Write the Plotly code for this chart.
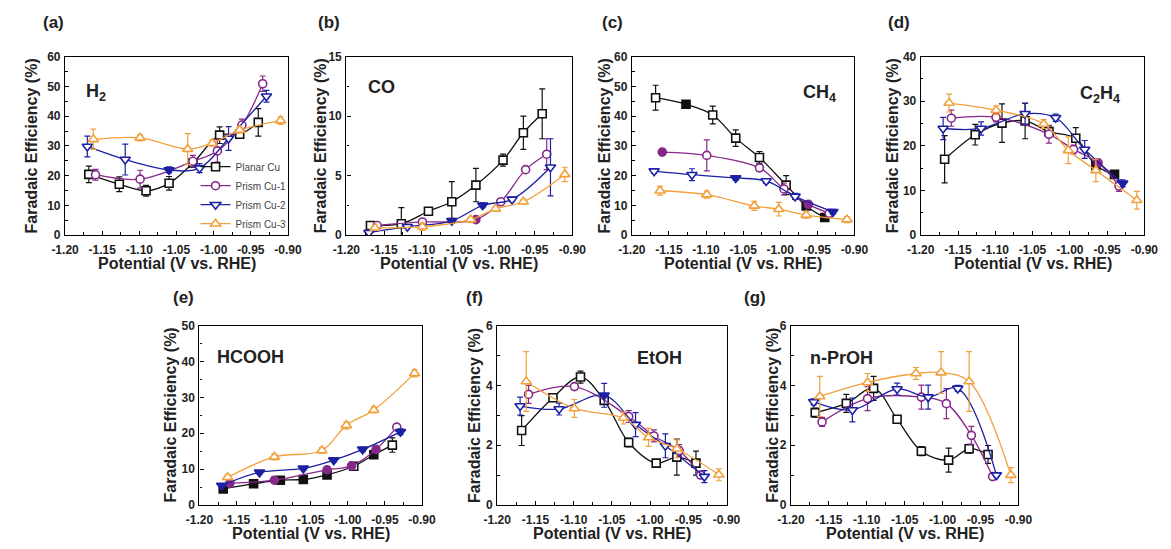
import plotly.graph_objects as go

W, H = 1171, 549

# ---- series ----------------------------------------------------------------
SERIES = ["Planar Cu", "Prism Cu-1", "Prism Cu-2", "Prism Cu-3"]
COLORS = ["#111111", "#86288A", "#1C20A2", "#F2A03C"]
SYMBOLS = ["square", "circle", "triangle-down", "triangle-up"]
MARKER_SIZES = [8, 8, 9, 9]

# applied potentials (V vs. RHE) for each electrode
POTENTIAL_PLANAR = [-1.168, -1.127, -1.091, -1.060, -1.028, -0.992, -0.965, -0.940]
POTENTIAL_CU1 = [-1.159, -1.099, -1.028, -0.995, -0.962, -0.934]
POTENTIAL_CU2 = [-1.170, -1.119, -1.060, -1.019, -0.980, -0.929]
POTENTIAL_CU3 = [-1.162, -1.099, -1.035, -1.002, -0.965, -0.910]
POTENTIALS = [POTENTIAL_PLANAR, POTENTIAL_CU1, POTENTIAL_CU2, POTENTIAL_CU3]

# ---- Faradaic efficiencies (%) and their error bars ------------------------
FE_H2_PLANAR = [20.4, 17.1, 14.9, 17.4, 24.2, 33.6, 33.9, 37.9]
FE_H2_CU1 = [20.3, 18.8, 24.8, 28.3, 37.0, 50.9]
FE_H2_CU2 = [29.8, 25.4, 21.9, 22.5, 32.5, 46.7]
FE_H2_CU3 = [32.2, 32.7, 28.9, 30.9, 35.3, 38.5]
ERR_H2_PLANAR = [2.8, 2.5, 1.8, 2.3, 1.0, 2.8, 1.4, 4.6]
ERR_H2_CU1 = [1.8, 3.0, 2.0, 3.8, 2.0, 2.6]
ERR_H2_CU2 = [3.5, 5.2, 1.0, 1.5, 4.0, 2.0]
ERR_H2_CU3 = [3.4, 1.0, 5.2, 1.0, 1.0, 1.3]

FE_CO_PLANAR = [0.8, 0.95, 2.0, 2.8, 4.2, 6.3, 8.6, 10.2]
FE_CO_CU1 = [0.8, 1.1, 1.3, 2.8, 5.5, 6.8]
FE_CO_CU2 = [0.2, 0.7, 1.2, 2.5, 3.0, 5.7]
FE_CO_CU3 = [0.6, 0.7, 1.3, 2.2, 2.8, 5.1]
ERR_CO_PLANAR = [0.15, 1.35, 0.15, 1.7, 1.4, 0.5, 1.4, 2.1]
ERR_CO_CU1 = [0.1, 0.15, 0.15, 0.2, 0.2, 1.3]
ERR_CO_CU2 = [0.1, 0.1, 0.2, 0.2, 0.2, 2.4]
ERR_CO_CU3 = [0.1, 0.3, 0.2, 0.2, 0.2, 0.6]

FE_CH4_PLANAR = [46.2, 44.0, 40.4, 32.6, 26.1, 16.8, 9.8, 5.9]
FE_CH4_CU1 = [27.9, 26.8, 22.6, 15.5, 10.3, 7.3]
FE_CH4_CU2 = [21.5, 20.3, 19.2, 18.2, 13.0, 7.8]
FE_CH4_CU3 = [14.9, 13.6, 9.8, 8.7, 6.7, 5.2]
ERR_CH4_PLANAR = [4.2, 0.5, 3.0, 2.8, 2.0, 3.2, 0.8, 0.5]
ERR_CH4_CU1 = [0.5, 5.2, 1.0, 2.0, 0.8, 0.5]
ERR_CH4_CU2 = [0.8, 2.0, 0.8, 0.8, 1.0, 0.8]
ERR_CH4_CU3 = [1.5, 1.2, 1.5, 2.3, 1.0, 1.0]

FE_C2H4_PLANAR = [17.0, 22.5, 25.1, 25.6, 23.2, 21.7, 15.6, 13.6]
FE_C2H4_CU1 = [26.2, 26.4, 22.6, 19.2, 16.2, 11.0]
FE_C2H4_CU2 = [23.9, 23.9, 27.2, 26.3, 19.2, 11.6]
FE_C2H4_CU3 = [29.6, 28.0, 24.9, 19.0, 14.5, 7.8]
ERR_C2H4_PLANAR = [5.3, 2.3, 4.3, 4.0, 1.0, 2.4, 1.0, 0.8]
ERR_C2H4_CU1 = [1.8, 1.0, 2.0, 1.0, 0.8, 1.2]
ERR_C2H4_CU2 = [2.5, 1.5, 2.3, 0.8, 2.0, 0.8]
ERR_C2H4_CU3 = [2.0, 1.0, 1.0, 3.0, 2.5, 2.0]

FE_HCOOH_PLANAR = [4.5, 5.9, 6.9, 7.1, 8.4, 10.8, 14.0, 16.7]
FE_HCOOH_CU1 = [6.1, 6.9, 9.8, 10.9, 15.5, 21.7]
FE_HCOOH_CU2 = [5.4, 9.1, 10.2, 12.5, 15.5, 20.4]
FE_HCOOH_CU3 = [7.7, 13.4, 15.2, 22.2, 26.5, 36.7]
ERR_HCOOH_PLANAR = [0.5, 0.4, 0.4, 0.4, 0.5, 0.5, 0.6, 2.0]
ERR_HCOOH_CU1 = [0.4, 0.4, 0.5, 0.5, 0.5, 0.8]
ERR_HCOOH_CU2 = [0.4, 0.5, 0.5, 0.5, 0.6, 0.8]
ERR_HCOOH_CU3 = [0.6, 0.8, 0.8, 1.0, 0.8, 1.0]

FE_ETOH_PLANAR = [2.49, 3.59, 4.28, 3.5, 2.09, 1.40, 1.60, 1.40]
FE_ETOH_CU1 = [3.70, 3.96, 2.96, 2.31, 1.82, 1.00]
FE_ETOH_CU2 = [3.31, 3.21, 3.67, 2.69, 1.98, 0.95]
FE_ETOH_CU3 = [4.13, 3.23, 2.91, 2.26, 1.88, 1.01]
ERR_ETOH_PLANAR = [0.5, 0.1, 0.2, 0.1, 0.15, 0.1, 0.6, 0.4]
ERR_ETOH_CU1 = [0.3, 0.1, 0.2, 0.2, 0.2, 0.1]
ERR_ETOH_CU2 = [0.3, 0.2, 0.4, 0.4, 0.4, 0.2]
ERR_ETOH_CU3 = [1.0, 0.3, 0.2, 0.3, 0.3, 0.2]

FE_PROH_PLANAR = [3.09, 3.40, 3.90, 2.87, 1.80, 1.50, 1.88, 1.69]
FE_PROH_CU1 = [2.78, 3.56, 3.61, 3.39, 2.33, 0.95]
FE_PROH_CU2 = [3.45, 3.18, 3.88, 3.61, 3.90, 1.00]
FE_PROH_CU3 = [3.63, 4.10, 4.40, 4.43, 4.13, 1.00]
ERR_PROH_PLANAR = [0.15, 0.3, 0.4, 0.05, 0.15, 0.4, 0.15, 0.3]
ERR_PROH_CU1 = [0.15, 0.4, 0.4, 0.5, 0.3, 0.05]
ERR_PROH_CU2 = [0.1, 0.4, 0.2, 0.4, 0.1, 0.05]
ERR_PROH_CU3 = [0.67, 0.3, 0.2, 0.7, 1.0, 0.25]

X_TICKS = [-1.20, -1.15, -1.10, -1.05, -1.00, -0.95, -0.90]
X_TICK_LABELS = ["-1.20", "-1.15", "-1.10", "-1.05", "-1.00", "-0.95", "-0.90"]

FONT = "Liberation Sans, Arial, sans-serif"
TEXT = "#222222"

# panel layout: plot box in pixels (left, right, top, bottom)
PANELS = [
    dict(tag="(a)", name="H<sub>2</sub>", ymax=60, dtick=10,
         fe=[FE_H2_PLANAR, FE_H2_CU1, FE_H2_CU2, FE_H2_CU3],
         err=[ERR_H2_PLANAR, ERR_H2_CU1, ERR_H2_CU2, ERR_H2_CU3],
         filled={2: [2]},
         box=(52.3, 280.7, 51, 234), tag_at=(40, 16), name_at=(84, 88), ytitle_x=18),
    dict(tag="(b)", name="CO", ymax=15, dtick=5,
         fe=[FE_CO_PLANAR, FE_CO_CU1, FE_CO_CU2, FE_CO_CU3],
         err=[ERR_CO_PLANAR, ERR_CO_CU1, ERR_CO_CU2, ERR_CO_CU3],
         filled={1: [2], 2: [2, 3]},
         box=(340.5, 572, 51, 234), tag_at=(323, 16), name_at=(377, 82), ytitle_x=314),
    dict(tag="(c)", name="CH<sub>4</sub>", ymax=60, dtick=10,
         fe=[FE_CH4_PLANAR, FE_CH4_CU1, FE_CH4_CU2, FE_CH4_CU3],
         err=[ERR_CH4_PLANAR, ERR_CH4_CU1, ERR_CH4_CU2, ERR_CH4_CU3],
         filled={0: [1, 6, 7], 1: [0, 4], 2: [2, 5]},
         box=(633, 861, 51, 234), tag_at=(613, 16), name_at=(825, 89), ytitle_x=605),
    dict(tag="(d)", name="C<sub>2</sub>H<sub>4</sub>", ymax=40, dtick=10,
         fe=[FE_C2H4_PLANAR, FE_C2H4_CU1, FE_C2H4_CU2, FE_C2H4_CU3],
         err=[ERR_C2H4_PLANAR, ERR_C2H4_CU1, ERR_C2H4_CU2, ERR_C2H4_CU3],
         filled={0: [6, 7], 1: [4], 2: [5]},
         box=(929, 1158, 51, 234), tag_at=(907, 16), name_at=(1113, 90), ytitle_x=900),
    dict(tag="(e)", name="HCOOH", ymax=50, dtick=10,
         fe=[FE_HCOOH_PLANAR, FE_HCOOH_CU1, FE_HCOOH_CU2, FE_HCOOH_CU3],
         err=[ERR_HCOOH_PLANAR, ERR_HCOOH_CU1, ERR_HCOOH_CU2, ERR_HCOOH_CU3],
         filled={0: [0, 1, 2, 3, 4, 6], 1: [0, 1, 2, 3, 4], 2: [0, 1, 2, 3, 4, 5]},
         box=(190, 418, 327, 511), tag_at=(174, 298), name_at=(242, 359), ytitle_x=160),
    dict(tag="(f)", name="EtOH", ymax=6, dtick=2,
         fe=[FE_ETOH_PLANAR, FE_ETOH_CU1, FE_ETOH_CU2, FE_ETOH_CU3],
         err=[ERR_ETOH_PLANAR, ERR_ETOH_CU1, ERR_ETOH_CU2, ERR_ETOH_CU3],
         filled={2: [2]},
         box=(495, 730, 327, 511), tag_at=(472, 298), name_at=(661, 360), ytitle_x=472),
    dict(tag="(g)", name="n-PrOH", ymax=6, dtick=2,
         fe=[FE_PROH_PLANAR, FE_PROH_CU1, FE_PROH_CU2, FE_PROH_CU3],
         err=[ERR_PROH_PLANAR, ERR_PROH_CU1, ERR_PROH_CU2, ERR_PROH_CU3],
         filled={},
         box=(796, 1029, 327, 511), tag_at=(759, 298), name_at=(848, 360), ytitle_x=777),
]


def px(x):
    return x / W


def py(y):
    return 1 - y / H


fig = go.Figure()
annotations = []
layout_axes = {}

for p_idx, panel in enumerate(PANELS):
    n = p_idx + 1
    xa = "x" if n == 1 else f"x{n}"
    ya = "y" if n == 1 else f"y{n}"
    left, right, top, bottom = panel["box"]

    for s_idx, name in enumerate(SERIES):
        color = COLORS[s_idx]
        xs = POTENTIALS[s_idx]
        ys = panel["fe"][s_idx]
        filled = panel["filled"].get(s_idx, [])
        fills = [color if i in filled else "white" for i in range(len(xs))]
        fig.add_trace(go.Scatter(
            x=xs, y=ys, xaxis=xa, yaxis=ya, name=name,
            mode="lines+markers", showlegend=(p_idx == 0), legendgroup=name,
            line=dict(color=color, width=1.3, shape="spline", smoothing=1.0),
            marker=dict(symbol=SYMBOLS[s_idx], size=MARKER_SIZES[s_idx], color=fills,
                        line=dict(color=color, width=1.6)),
            error_y=dict(type="data", array=panel["err"][s_idx], color=color,
                         thickness=1.2, width=3),
        ))

    axis_common = dict(
        showline=True, linecolor="black", linewidth=1.3, mirror=True,
        ticks="inside", ticklen=4, tickwidth=1.2, tickcolor="black",
        showgrid=False, zeroline=False,
        tickfont=dict(family=FONT, size=12, color=TEXT, weight="bold"),
    )
    layout_axes[("xaxis" if n == 1 else f"xaxis{n}")] = dict(
        axis_common, domain=[px(left), px(right)], anchor=ya,
        range=[-1.20, -0.90], tickmode="array", tickvals=X_TICKS, ticktext=X_TICK_LABELS,
        ticklabelstandoff=3,
        minor=dict(tickmode="linear", tick0=-1.2, dtick=0.025, ticks="inside",
                   ticklen=2.5, tickwidth=1, tickcolor="black"),
    )
    layout_axes[("yaxis" if n == 1 else f"yaxis{n}")] = dict(
        axis_common, domain=[py(bottom), py(top)], anchor=xa,
        range=[0, panel["ymax"]], tickmode="linear", tick0=0, dtick=panel["dtick"],
        ticklabelstandoff=1,
        minor=dict(tickmode="linear", tick0=0, dtick=panel["dtick"] / 2, ticks="inside",
                   ticklen=2.5, tickwidth=1, tickcolor="black"),
    )

    # panel tag, product name and axis titles
    annotations.append(dict(
        text=panel["tag"], x=px(panel["tag_at"][0]), y=py(panel["tag_at"][1]),
        xref="paper", yref="paper", showarrow=False, xanchor="center", yanchor="middle",
        font=dict(family=FONT, size=17, color=TEXT, weight="bold")))
    annotations.append(dict(
        text=panel["name"], x=px(panel["name_at"][0]), y=py(panel["name_at"][1]),
        xref="paper", yref="paper", showarrow=False, xanchor="center", yanchor="middle",
        font=dict(family=FONT, size=18, color=TEXT, weight="bold")))
    annotations.append(dict(
        text="Potential (V vs. RHE)", x=px((left + right) / 2), y=py(bottom + 29),
        xref="paper", yref="paper", showarrow=False, xanchor="center", yanchor="middle",
        font=dict(family=FONT, size=16, color=TEXT, weight="bold")))
    annotations.append(dict(
        text="Faradaic Efficiency (%)", x=px(panel["ytitle_x"]), y=py((top + bottom) / 2),
        xref="paper", yref="paper", showarrow=False, xanchor="center", yanchor="middle",
        textangle=-90,
        font=dict(family=FONT, size=16, color=TEXT, weight="bold")))

fig.update_layout(
    width=W, height=H,
    margin=dict(l=0, r=0, t=0, b=0),
    paper_bgcolor="white", plot_bgcolor="white",
    font=dict(family=FONT, color=TEXT),
    annotations=annotations,
    legend=dict(x=px(186), y=py(149), xanchor="left", yanchor="top",
                bgcolor="rgba(0,0,0,0)", borderwidth=0, tracegroupgap=0,
                itemwidth=30, font=dict(family=FONT, size=10, color="#444444")),
    **layout_axes,
)

fig.write_html("out.html")
